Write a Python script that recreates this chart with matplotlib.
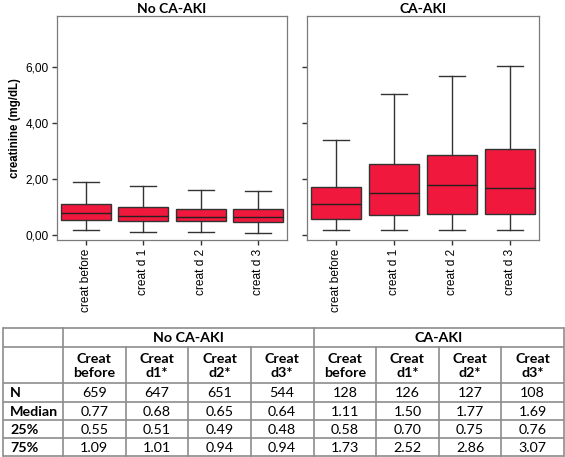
import matplotlib
matplotlib.use('Agg')
import matplotlib.pyplot as plt

categories = ['creat before', 'creat d 1', 'creat d 2', 'creat d 3']
groups = ['No CA-AKI', 'CA-AKI']

no_med = [0.77, 0.68, 0.65, 0.64]
no_q1 = [0.55, 0.51, 0.49, 0.48]
no_q3 = [1.09, 1.01, 0.94, 0.94]
no_lo = [0.19, 0.12, 0.12, 0.06]
no_hi = [1.88, 1.75, 1.60, 1.56]

ca_med = [1.11, 1.50, 1.77, 1.69]
ca_q1 = [0.58, 0.70, 0.75, 0.76]
ca_q3 = [1.73, 2.52, 2.86, 3.07]
ca_lo = [0.19, 0.19, 0.19, 0.19]
ca_hi = [3.38, 5.04, 5.69, 6.05]

yticks = [0, 2, 4, 6]
ytick_labels = ['0,00', '2,00', '4,00', '6,00']

# table data
col_heads = ['Creat\nbefore', 'Creat\nd1*', 'Creat\nd2*', 'Creat\nd3*',
             'Creat\nbefore', 'Creat\nd1*', 'Creat\nd2*', 'Creat\nd3*']
row_labels = ['N', 'Median', '25%', '75%']
row_N = ['659', '647', '651', '544', '128', '126', '127', '108']
row_median = ['0.77', '0.68', '0.65', '0.64', '1.11', '1.50', '1.77', '1.69']
row_q25 = ['0.55', '0.51', '0.49', '0.48', '0.58', '0.70', '0.75', '0.76']
row_q75 = ['1.09', '1.01', '0.94', '0.94', '1.73', '2.52', '2.86', '3.07']

W, H = 565, 457
fig = plt.figure(figsize=(W / 100, H / 100), dpi=100)
fig.patch.set_facecolor('white')

RED = '#F0183C'
FRAME = '#7a7a7a'
tick_font = 'Liberation Sans'
tab_font = ['Lato', 'DejaVu Sans']


def px_axes(x0, y0, x1, y1):
    return fig.add_axes([x0 / W, 1 - y1 / H, (x1 - x0) / W, (y1 - y0) / H])


def draw_box(ax, med, q1, q3, lo, hi, title, show_labels):
    stats = []
    for i in range(len(categories)):
        stats.append(dict(med=med[i], q1=q1[i], q3=q3[i],
                          whislo=lo[i], whishi=hi[i], fliers=[]))
    ax.bxp(stats, positions=range(1, len(categories) + 1), widths=0.87,
           patch_artist=True, showfliers=False,
           boxprops=dict(facecolor=RED, edgecolor='#333333', linewidth=1.0),
           medianprops=dict(color='#222222', linewidth=1.0),
           whiskerprops=dict(color='#333333', linewidth=1.0),
           capprops=dict(color='#333333', linewidth=1.0), capwidths=0.45)
    ax.set_xlim(0.5, 4.5)
    ax.set_ylim(-0.18, 7.82)
    ax.set_yticks(yticks)
    ax.set_xticks(range(1, len(categories) + 1))
    ax.set_xticklabels(categories, rotation=90, fontsize=8.6, family=tick_font)
    if show_labels:
        ax.set_yticklabels(ytick_labels, fontsize=8.6, family=tick_font)
        ax.set_ylabel('creatinine (mg/dL)', fontsize=8.3, fontweight='bold',
                      family=tick_font, labelpad=3)
    else:
        ax.set_yticklabels([])
    for s in ax.spines.values():
        s.set_color(FRAME)
        s.set_linewidth(0.9)
    ax.tick_params(direction='out', length=3.5, width=1.0, color='#333333',
                   pad=2.5)
    ax.set_title(title, fontsize=10, fontweight='bold', family=tab_font, pad=2)


ax1 = px_axes(57, 16, 287, 240)
draw_box(ax1, no_med, no_q1, no_q3, no_lo, no_hi, groups[0], True)
ax2 = px_axes(307, 16, 539, 240)
draw_box(ax2, ca_med, ca_q1, ca_q3, ca_lo, ca_hi, groups[1], False)

# table drawn in pixel coordinates
tax = fig.add_axes([0, 0, 1, 1])
tax.set_xlim(0, W)
tax.set_ylim(H, 0)
tax.axis('off')

LINE = '#8c8c8c'
left, first = 3, 63
right = 564
colw = (right - first) / 8
col_x = [first + i * colw for i in range(9)]
rows_y = [328, 347, 383, 402, 420, 438, 456]

# horizontal lines
for y in rows_y:
    tax.plot([left, right], [y, y], color=LINE, lw=1.2, solid_capstyle='butt')
# vertical lines
for x in [left, first, col_x[4], right]:
    tax.plot([x, x], [rows_y[0], rows_y[-1]], color=LINE, lw=1.2)
for x in col_x[1:4] + col_x[5:8]:
    tax.plot([x, x], [rows_y[1], rows_y[-1]], color=LINE, lw=1.2)

fs = 10.3
tax.text((col_x[0] + col_x[4]) / 2, (rows_y[0] + rows_y[1]) / 2, groups[0],
         ha='center', va='center', fontsize=fs, fontweight='bold', family=tab_font)
tax.text((col_x[4] + col_x[8]) / 2, (rows_y[0] + rows_y[1]) / 2, groups[1],
         ha='center', va='center', fontsize=fs, fontweight='bold', family=tab_font)
for i, h in enumerate(col_heads):
    tax.text((col_x[i] + col_x[i + 1]) / 2, (rows_y[1] + rows_y[2]) / 2 + 1, h,
             ha='center', va='center', fontsize=fs, fontweight='bold',
             family=tab_font, linespacing=1.2)

table_rows = [row_N, row_median, row_q25, row_q75]
for r, (lab, vals) in enumerate(zip(row_labels, table_rows)):
    yc = (rows_y[r + 2] + rows_y[r + 3]) / 2 + 0.5
    tax.text(left + 7, yc, lab, ha='left', va='center', fontsize=fs,
             fontweight='bold', family=tab_font)
    for i, v in enumerate(vals):
        tax.text((col_x[i] + col_x[i + 1]) / 2, yc, v, ha='center',
                 va='center', fontsize=fs, family=tab_font)

fig.savefig('out.png', dpi=100, facecolor='white')
